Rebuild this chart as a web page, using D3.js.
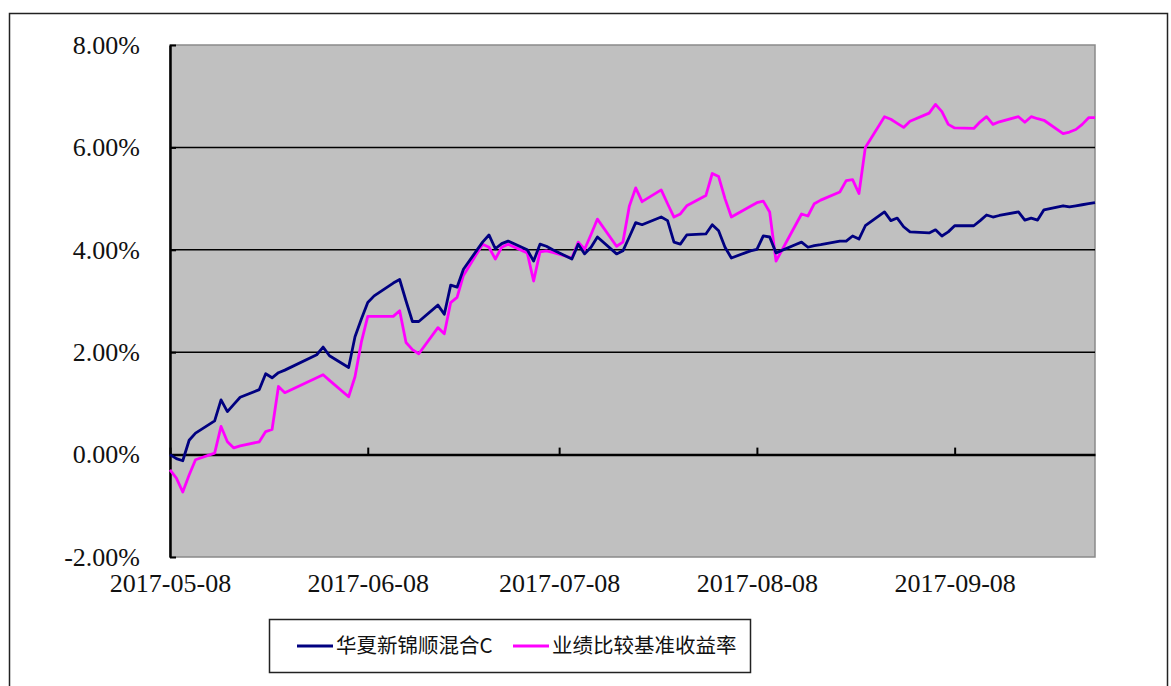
<!DOCTYPE html>
<html>
<head>
<meta charset="utf-8">
<script src="https://cdn.jsdelivr.net/npm/d3@7"></script>
<style>
  body { margin: 0; background: #fff; }
  svg { display: block; }
</style>
</head>
<body>
<div id="chart"></div>
<script>
// trading days, 2017-05-08 .. 2017-09-30
const dates = [
  "2017-05-08","2017-05-09","2017-05-10","2017-05-11","2017-05-12",
  "2017-05-15","2017-05-16","2017-05-17","2017-05-18","2017-05-19",
  "2017-05-22","2017-05-23","2017-05-24","2017-05-25","2017-05-26",
  "2017-05-31","2017-06-01","2017-06-02",
  "2017-06-05","2017-06-06","2017-06-07","2017-06-08","2017-06-09",
  "2017-06-12","2017-06-13","2017-06-14","2017-06-15","2017-06-16",
  "2017-06-19","2017-06-20","2017-06-21","2017-06-22","2017-06-23",
  "2017-06-26","2017-06-27","2017-06-28","2017-06-29","2017-06-30",
  "2017-07-03","2017-07-04","2017-07-05","2017-07-06","2017-07-07",
  "2017-07-10","2017-07-11","2017-07-12","2017-07-13","2017-07-14",
  "2017-07-17","2017-07-18","2017-07-19","2017-07-20","2017-07-21",
  "2017-07-24","2017-07-25","2017-07-26","2017-07-27","2017-07-28",
  "2017-07-31","2017-08-01","2017-08-02","2017-08-03","2017-08-04",
  "2017-08-07","2017-08-08","2017-08-09","2017-08-10","2017-08-11",
  "2017-08-14","2017-08-15","2017-08-16","2017-08-17","2017-08-18",
  "2017-08-21","2017-08-22","2017-08-23","2017-08-24","2017-08-25",
  "2017-08-28","2017-08-29","2017-08-30","2017-08-31","2017-09-01",
  "2017-09-04","2017-09-05","2017-09-06","2017-09-07","2017-09-08",
  "2017-09-11","2017-09-12","2017-09-13","2017-09-14","2017-09-15",
  "2017-09-18","2017-09-19","2017-09-20","2017-09-21","2017-09-22",
  "2017-09-25","2017-09-26","2017-09-27","2017-09-28","2017-09-29",
  "2017-09-30"
];

// 华夏新锦顺混合C (%)
const fundValues = [
  0.00, -0.08, -0.12, 0.28, 0.42,
  0.66, 1.07, 0.84, 0.98, 1.12,
  1.27, 1.58, 1.50, 1.60, 1.65,
  1.95, 2.10, 1.93,
  1.70, 2.30, 2.65, 2.97, 3.10,
  3.35, 3.42, 3.00, 2.60, 2.60,
  2.92, 2.74, 3.31, 3.27, 3.62,
  4.15, 4.29, 4.02, 4.12, 4.17,
  4.00, 3.78, 4.11, 4.07, 4.00,
  3.82, 4.11, 3.92, 4.05, 4.25,
  3.92, 3.98, 4.25, 4.53, 4.49,
  4.64, 4.57, 4.15, 4.11, 4.29,
  4.31, 4.49, 4.37, 4.05, 3.84,
  3.98, 4.01, 4.27, 4.25, 3.94,
  4.10, 4.15, 4.05, 4.08, 4.10,
  4.17, 4.17, 4.27, 4.21, 4.47,
  4.74, 4.57, 4.62, 4.45, 4.35,
  4.33, 4.39, 4.27, 4.35, 4.47,
  4.47, 4.57, 4.68, 4.64, 4.67,
  4.74, 4.58, 4.62, 4.58, 4.78,
  4.86, 4.84, 4.86, 4.88, 4.90,
  4.92
];

// 业绩比较基准收益率 (%)
const benchValues = [
  -0.30, -0.46, -0.73, -0.40, -0.10,
  0.03, 0.55, 0.25, 0.13, 0.17,
  0.25, 0.45, 0.49, 1.33, 1.21,
  1.50, 1.56, 1.45,
  1.13, 1.52, 2.20, 2.70, 2.70,
  2.70, 2.81, 2.19, 2.05, 1.97,
  2.48, 2.36, 2.97, 3.07, 3.50,
  4.11, 4.05, 3.82, 4.05, 4.11,
  3.94, 3.39, 3.96, 3.98, 3.95,
  3.84, 4.15, 4.01, 4.30, 4.60,
  4.07, 4.15, 4.85, 5.21, 4.94,
  5.17, 4.90, 4.64, 4.70, 4.86,
  5.06, 5.49, 5.43, 5.00, 4.64,
  4.85, 4.92, 4.95, 4.74, 3.78,
  4.47, 4.70, 4.66, 4.90, 4.97,
  5.13, 5.35, 5.37, 5.10, 6.00,
  6.60, 6.55, 6.47, 6.39, 6.51,
  6.67, 6.84, 6.70, 6.45, 6.38,
  6.37, 6.50, 6.60, 6.45, 6.50,
  6.60, 6.49, 6.60, 6.56, 6.53,
  6.27, 6.30, 6.35, 6.45, 6.58,
  6.58
];

const xTickLabels = ["2017-05-08", "2017-06-08", "2017-07-08", "2017-08-08", "2017-09-08"];
const yTicks = [-2, 0, 2, 4, 6, 8];
const seriesNames = ["华夏新锦顺混合C", "业绩比较基准收益率"];

const parse = d3.timeParse("%Y-%m-%d");
const W = 1171, H = 686;
const plot = { left: 170, top: 45, right: 1095, bottom: 557 };

const svg = d3.select("#chart").append("svg")
  .attr("width", W).attr("height", H);

// outer frame
svg.append("rect")
  .attr("x", 9.5).attr("y", 13.5)
  .attr("width", 1158).attr("height", 700)
  .attr("fill", "none").attr("stroke", "#222").attr("stroke-width", 1.5);

const x = d3.scaleTime()
  .domain([parse(dates[0]), parse(dates[dates.length - 1])])
  .range([plot.left, plot.right]);

const y = d3.scaleLinear()
  .domain([-2, 8])
  .range([plot.bottom, plot.top]);

// plot background
svg.append("rect")
  .attr("x", plot.left).attr("y", plot.top)
  .attr("width", plot.right - plot.left).attr("height", plot.bottom - plot.top)
  .attr("fill", "#c0c0c0").attr("stroke", "#8a8a8a").attr("stroke-width", 1.5);

// gridlines
svg.append("g")
  .selectAll("line")
  .data([2, 4, 6])
  .join("line")
    .attr("x1", plot.left).attr("x2", plot.right)
    .attr("y1", d => y(d)).attr("y2", d => y(d))
    .attr("stroke", "#000").attr("stroke-width", 1.5);

// y axis
const yAxis = svg.append("g")
  .attr("transform", `translate(${plot.left},0)`)
  .call(d3.axisLeft(y)
    .tickValues(yTicks)
    .tickSizeInner(-6)
    .tickSizeOuter(0)
    .tickPadding(30)
    .tickFormat(d => d.toFixed(2) + "%"));
yAxis.select(".domain").attr("stroke", "#000").attr("stroke-width", 2.5);
yAxis.selectAll(".tick line").attr("stroke", "#000").attr("stroke-width", 2);
yAxis.selectAll("text")
  .attr("fill", "#111")
  .style("font-family", "'Liberation Serif', 'Times New Roman', serif")
  .style("font-size", "26px");

// x axis line at zero with ticks pointing up
const xTicks = xTickLabels.map(parse);
const xAxis0 = svg.append("g")
  .attr("transform", `translate(0,${y(0)})`)
  .call(d3.axisBottom(x)
    .tickValues(xTicks)
    .tickSizeInner(-7)
    .tickSizeOuter(0)
    .tickFormat(""));
xAxis0.select(".domain").attr("stroke", "#000").attr("stroke-width", 2.5);
xAxis0.selectAll(".tick line").attr("stroke", "#000").attr("stroke-width", 2);

// x labels below plot
const xAxisLabels = svg.append("g")
  .attr("transform", `translate(0,${plot.bottom})`)
  .call(d3.axisBottom(x)
    .tickValues(xTicks)
    .tickSize(0)
    .tickPadding(17)
    .tickFormat(d3.timeFormat("%Y-%m-%d")));
xAxisLabels.select(".domain").remove();
xAxisLabels.selectAll("text")
  .attr("fill", "#111")
  .style("font-family", "'Liberation Serif', 'Times New Roman', serif")
  .style("font-size", "26px");

// lines
const line = d3.line()
  .x(d => x(d.date))
  .y(d => y(d.value));

const fundData = dates.map((d, i) => ({ date: parse(d), value: fundValues[i] }));
const benchData = dates.map((d, i) => ({ date: parse(d), value: benchValues[i] }));

svg.append("path")
  .datum(benchData)
  .attr("fill", "none")
  .attr("stroke", "#ff00ff")
  .attr("stroke-width", 2.8)
  .attr("stroke-linejoin", "round")
  .attr("d", line);

svg.append("path")
  .datum(fundData)
  .attr("fill", "none")
  .attr("stroke", "#000080")
  .attr("stroke-width", 2.8)
  .attr("stroke-linejoin", "round")
  .attr("d", line);

// legend
const legend = svg.append("g");
legend.append("rect")
  .attr("x", 269.5).attr("y", 619.5)
  .attr("width", 481).attr("height", 53)
  .attr("fill", "#fff").attr("stroke", "#222").attr("stroke-width", 1.5);

const legendItems = [
  { name: seriesNames[0], color: "#000080", x: 297 },
  { name: seriesNames[1], color: "#ff00ff", x: 513 }
];
legendItems.forEach(item => {
  legend.append("line")
    .attr("x1", item.x).attr("x2", item.x + 36)
    .attr("y1", 646).attr("y2", 646)
    .attr("stroke", item.color).attr("stroke-width", 3);
  legend.append("text")
    .attr("x", item.x + 39).attr("y", 646)
    .attr("dy", "0.36em")
    .attr("fill", "#111")
    .style("font-family", "'Noto Sans CJK SC', sans-serif")
    .style("font-size", "20.5px")
    .text(item.name);
});
</script>
</body>
</html>
